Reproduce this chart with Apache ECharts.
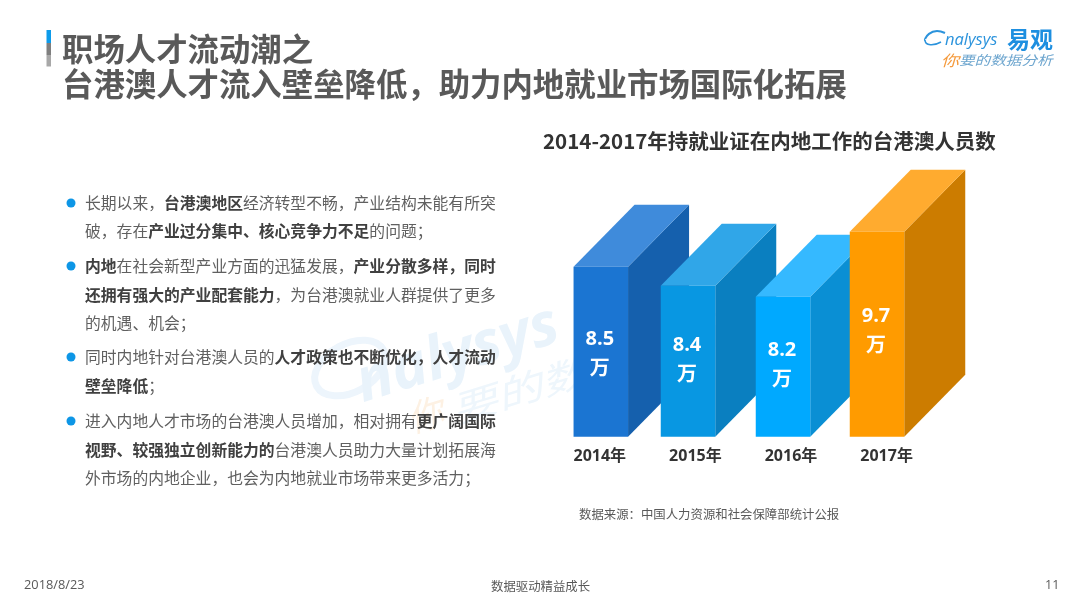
<!DOCTYPE html>
<html>
<head>
<meta charset="utf-8">
<style>html,body{margin:0;padding:0;background:#fff}#c{width:1080px;height:608px}</style>
<script src="https://cdn.jsdelivr.net/npm/echarts@6/dist/echarts.min.js"></script>
</head>
<body>
<div id="c"></div>
<script>
// Values printed on the bars (unit: 万 people)
var categories = ['2014年', '2015年', '2016年', '2017年'];
var values = [8.5, 8.4, 8.2, 9.7];
// The picture's 3D bars are not proportional to their printed values,
// so their drawn heights are read from the picture separately.
var barHeights = [170, 151, 140, 205];
var unit = '万';

var frontColors = ['#1b75d2', '#0897e2', '#00a9ff', '#ff9b00'];
var topColors = ['#3f8bdb', '#30a6e8', '#35b9ff', '#ffab2f'];
var sideColors = ['#1560ad', '#0a7fc0', '#0a8fd4', '#cc7c00'];

var chartTitle = '2014-2017年持就业证在内地工作的台港澳人员数';
var titleLines = ['职场人才流动潮之', '台港澳人才流入壁垒降低，助力内地就业市场国际化拓展'];
var sourceText = '数据来源：中国人力资源和社会保障部统计公报';
var footerDate = '2018/8/23', footerMid = '数据驱动精益成长', footerPage = '11';

var bodyLines = [
  '{n|长期以来，}{b|台港澳地区}{n|经济转型不畅，产业结构未能有所突}',
  '{n|破，存在}{b|产业过分集中、核心竞争力不足}{n|的问题；}',
  '{b|内地}{n|在社会新型产业方面的迅猛发展，}{b|产业分散多样，同时}',
  '{b|还拥有强大的产业配套能力}{n|，为台港澳就业人群提供了更多}',
  '{n|的机遇、机会；}',
  '{n|同时内地针对台港澳人员的}{b|人才政策也不断优化，人才流动}',
  '{b|壁垒降低}{n|；}',
  '{n|进入内地人才市场的台港澳人员增加，相对拥有}{b|更广阔国际}',
  '{b|视野、较强独立创新能力的}{n|台港澳人员助力大量计划拓展海}',
  '{n|外市场的内地企业，也会为内地就业市场带来更多活力；}'
];
var bodyLineY = [203, 231, 266, 295, 323, 357, 386, 421, 450, 478];
var bulletLineIndex = [0, 2, 5, 7];

var FONT = '"Noto Sans CJK SC","Open Sans",sans-serif';
var LATIN = '"Open Sans","Noto Sans CJK SC",sans-serif';
var DEPTH_X = 61, DEPTH_Y = 62, BAR_W = 54.5;
var barShift = [1, -7.4, -8, -9.6];
var labelShift = [3, -1, -1, -3];

var gfx = [];
function txt(x, y, text, font, color, extra) {
  var style = {text: text, font: font, fill: color, textAlign: 'left', textVerticalAlign: 'middle'};
  var el = {type: 'text', x: x, y: y, style: style, silent: true};
  if (extra) for (var k in extra) { if (k === 'style') { for (var s in extra.style) style[s] = extra.style[s]; } else el[k] = extra[k]; }
  gfx.push(el);
}
// watermark
gfx.push({type: 'ellipse', x: 350, y: 368, rotation: 0.5, shape: {cx: 0, cy: 0, rx: 38, ry: 24},
  style: {fill: 'none', stroke: '#edf5fc', lineWidth: 7}, silent: true});
txt(358, 386, 'nalysys', 'italic bold 60px ' + LATIN, '#e9f3fb', {rotation: 0.3});
txt(408, 420, '你', 'italic 36px ' + FONT, '#fdf1e3', {rotation: 0.3});
txt(452, 411, '要的数据分析', 'italic 36px ' + FONT, '#eef6fc', {rotation: 0.3, scaleX: 1.3});

// heading
gfx.push({type: 'rect', shape: {x: 46.5, y: 30, width: 4.5, height: 13}, style: {fill: '#0d9bea'}, silent: true});
gfx.push({type: 'rect', shape: {x: 46.5, y: 43, width: 4.5, height: 12}, style: {fill: '#7f7f7f'}, silent: true});
gfx.push({type: 'rect', shape: {x: 46.5, y: 55, width: 4.5, height: 11.5}, style: {fill: '#a8a8a8'}, silent: true});
txt(62, 49, titleLines[0], 'bold 31.4px ' + FONT, '#595959');
txt(62, 84, titleLines[1], 'bold 31.4px ' + FONT, '#595959');

// logo
gfx.push({type: 'bezierCurve', shape: {x1: 945, y1: 33, cpx1: 930, cpy1: 26, x2: 925, y2: 40, cpx2: 924, cpy2: 40},
  style: {fill: 'none', stroke: '#2b93dc', lineWidth: 2}, silent: true});
gfx.push({type: 'bezierCurve', shape: {x1: 925, y1: 40, cpx1: 925, cpy1: 46, x2: 941, y2: 42, cpx2: 934, cpy2: 46},
  style: {fill: 'none', stroke: '#2b93dc', lineWidth: 1.5}, silent: true});
txt(945, 40, 'nalysys', 'italic 16.5px ' + LATIN, '#2b93dc');
txt(1007, 39, '易观', 'bold 23px ' + FONT, '#1e8fe0');
txt(941, 60, '{o|你}{b|要的数据分析}', '13px ' + FONT, '#6fa8d0', {scaleX: 1.2, style: {
  rich: {o: {font: 'italic 15px ' + FONT, fill: '#f59a3c'}, b: {font: 'italic 13px ' + FONT, fill: '#6ea6cf'}}
}});

// body copy
bulletLineIndex.forEach(function (i) {
  gfx.push({type: 'circle', shape: {cx: 71, cy: bodyLineY[i], r: 4.5}, style: {fill: '#0d96e6'}, silent: true});
});
bodyLines.forEach(function (line, i) {
  txt(85, bodyLineY[i], line, '15.8px ' + FONT, '#595959', {style: {
    rich: {n: {font: '15.8px ' + FONT, fill: '#606060'}, b: {font: 'bold 15.8px ' + FONT, fill: '#404040'}}
  }});
});

// chart title, source, footer
txt(543, 141, chartTitle, 'bold 20.5px ' + FONT, '#333333');
txt(579, 514, sourceText, '12.4px ' + FONT, '#595959');
txt(24, 585, footerDate, '12.8px ' + LATIN, '#595959');
txt(491, 586, footerMid, '12.4px ' + FONT, '#595959');
txt(1045, 585, footerPage, '12.5px ' + LATIN, '#595959');

var option = {
  animation: false,
  backgroundColor: '#ffffff',
  grid: {left: 552, width: 382.4, top: 136.7, height: 300},
  xAxis: {
    type: 'category', data: categories,
    axisLine: {show: false}, axisTick: {show: false},
    axisLabel: {color: '#333333', fontWeight: 'bold', fontSize: 16, fontFamily: LATIN, margin: 12}
  },
  yAxis: {type: 'value', min: 0, max: 300, show: false},
  graphic: {z: 0, elements: gfx},
  series: [{
    type: 'custom',
    z: 5,
    data: barHeights.map(function (h, i) { return [i, h, values[i]]; }),
    encode: {x: 0, y: 1},
    clip: false,
    renderItem: function (params, api) {
      var i = api.value(0);
      var base = api.coord([i, 0]);
      var top = api.coord([i, api.value(1)]);
      var l = base[0] + barShift[i] - BAR_W / 2, r = l + BAR_W, b = base[1], t = top[1];
      var poly = function (pts, c) { return {type: 'polygon', shape: {points: pts}, style: {fill: c}}; };
      return {
        type: 'group',
        children: [
          poly([[r, t], [r + DEPTH_X, t - DEPTH_Y], [r + DEPTH_X, b - DEPTH_Y], [r, b]], sideColors[i]),
          poly([[l, t], [l + DEPTH_X, t - DEPTH_Y], [r + DEPTH_X, t - DEPTH_Y], [r, t]], topColors[i]),
          poly([[l, t], [r, t], [r, b], [l, b]], frontColors[i]),
          {
            type: 'text',
            style: {
              x: (l + r) / 2 - 1,
              y: (t + b) / 2 + labelShift[i],
              text: api.value(2).toFixed(1) + '\n' + unit,
              fill: '#ffffff',
              font: 'bold 20px ' + LATIN,
              lineHeight: 30,
              textAlign: 'center',
              textVerticalAlign: 'middle'
            }
          }
        ]
      };
    }
  }]
};
var chart = echarts.init(document.getElementById('c'), null, {renderer: 'canvas'});
chart.setOption(option);
</script>
</body>
</html>
